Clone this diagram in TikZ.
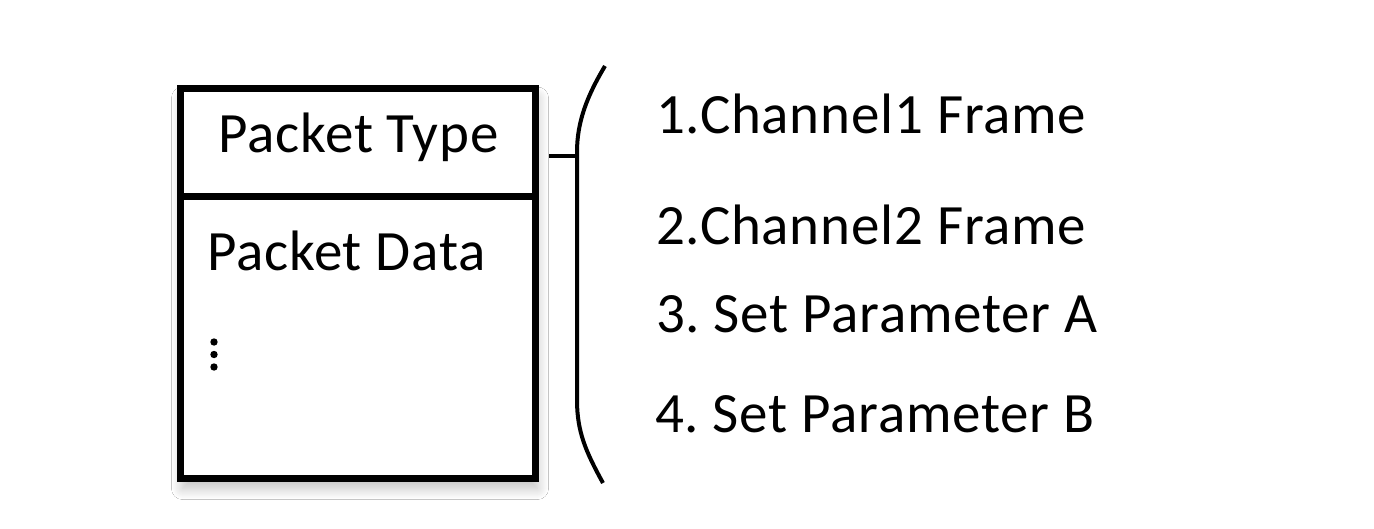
\documentclass[tikz,border=0pt]{standalone}
\usepackage{fontspec}
\setmainfont{Carlito}[LetterSpace=1.4]
\frenchspacing
\usetikzlibrary{shadows.blur}
\begin{document}
\begin{tikzpicture}[x=1pt,y=-1pt,
  lbl/.style={font=\fontsize{57}{60}\selectfont, inner sep=0pt, anchor=base west},
  boxline/.style={line width=7pt, line join=miter},
  braceline/.style={line width=4pt, line cap=butt},
  dot/.style={circle, fill=black, inner sep=0pt, minimum size=7.4pt}]
\useasboundingbox[fill=white] (0,0) rectangle (1374,528);
% packet box
\node[draw, boxline, fill=white, minimum width=355pt, minimum height=390.5pt, inner sep=0pt,
      blur shadow={shadow xshift=2pt, shadow yshift=-10pt, shadow blur radius=11pt, shadow blur steps=20, shadow opacity=25}]
      (box) at (358,283.25) {};
\coordinate (divL) at (180.5,196.5);
\coordinate (divR) at (535.5,196.5);
\draw[boxline] (divL) -- (divR);
\node[lbl, anchor=base] (ptype) at (358.5,152) {Packet Type};
\node[lbl] (pdata) at (207,270) {Packet Data};
\node[dot] (d1) at (214,342) {};
\node[dot] (d2) at (214,354.5) {};
\node[dot] (d3) at (214,367) {};
% brace
\coordinate (btop) at (605,66);
\coordinate (bup) at (577,152);
\coordinate (blow) at (577,400);
\coordinate (bbot) at (603,483);
\coordinate (tick) at (549,156);
\coordinate (tickend) at (577,156);
\draw[braceline] (btop) .. controls (587,96) and (577,122) .. (bup) -- (blow) .. controls (577,432) and (586,452) .. (bbot);
\draw[braceline] (tick) -- (tickend);
% items
\node[lbl] (i1) at (656,133) {1.Channel1 Frame};
\node[lbl] (i2) at (656,244) {2.Channel2 Frame};
\node[lbl] (i3) at (656,332) {3. Set Parameter A};
\node[lbl] (i4) at (655,432) {4. Set Parameter B};
\end{tikzpicture}
\end{document}
